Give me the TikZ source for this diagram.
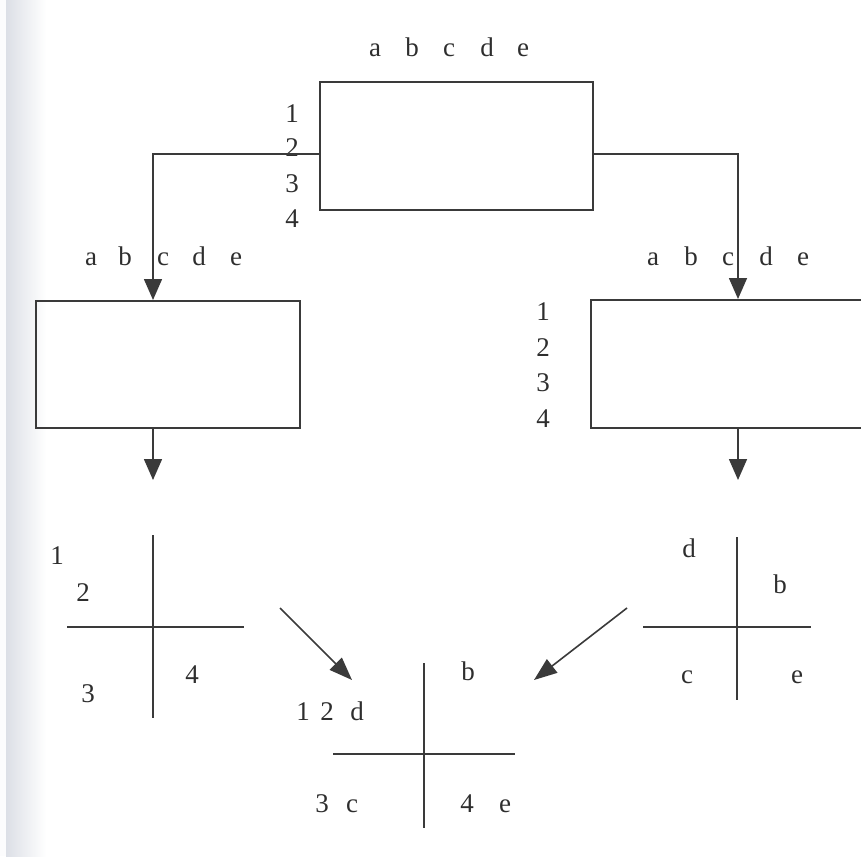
\documentclass[tikz,border=0pt]{standalone}
\usepackage{fontspec}
\setmainfont{Liberation Serif}
\usetikzlibrary{arrows.meta}
\definecolor{ink}{HTML}{3A3A3A}
\definecolor{strip}{HTML}{DCDFE6}
\tikzset{
  lbl/.style={anchor=base,inner sep=0pt,font=\fontsize{27}{29}\selectfont,text=ink!80!black},
  boxline/.style={draw=ink,line width=2pt},
  conn/.style={draw=ink,line width=1.6pt},
  axis/.style={draw=ink,line width=1.7pt},
  tip/.style={-{Triangle[length=21pt,width=18pt]}},
  diag/.style={draw=ink,line width=1.6pt,-{Triangle[length=23pt,width=17pt]}}
}
\begin{document}
\begin{tikzpicture}[x=1pt,y=-1pt]
\useasboundingbox (0,0) rectangle (861,856);
\clip (0,0) rectangle (861,856);
% scan strip at the left edge
\shade[left color=strip,right color=white] (6,0) rectangle (46,856);
\fill[white!92!strip] (0,0) rectangle (6,856);

% top box
\coordinate (tl) at (319,81);
\node[boxline,rectangle,inner sep=0pt,minimum width=273pt,minimum height=128pt,anchor=north west] (top) at (tl) {};
\foreach \t/\x in {a/375,b/412,c/449,d/487,e/523} \node[lbl] (t\t) at (\x,57) {\t};
\foreach \t/\y in {1/122,2/156,3/192,4/227} \node[lbl] (tn\t) at (292,\y) {\t};

% left box
\node[boxline,rectangle,inner sep=0pt,minimum width=264pt,minimum height=127pt,anchor=north west] (left) at (35,300) {};
\foreach \t/\x in {a/91,b/125,c/163,d/199,e/236} \node[lbl] (l\t) at (\x,265) {\t};

% right box (runs off the right edge)
\node[boxline,rectangle,inner sep=0pt,minimum width=290pt,minimum height=128pt,anchor=north west] (right) at (590,299) {};
\foreach \t/\x in {a/653,b/691,c/728,d/766,e/803} \node[lbl] (r\t) at (\x,265) {\t};
\foreach \t/\y in {1/320,2/356,3/391,4/427} \node[lbl] (rn\t) at (543,\y) {\t};

% connectors from top box
\coordinate (lin) at (153,300);
\coordinate (rin) at (738,299);
\draw[conn,tip] (top.west |- 0,154) -| (lin);
\draw[conn,tip] (top.east |- 0,154) -| (rin);

% arrows below the boxes
\coordinate (lout) at (153,427);
\coordinate (lend) at (153,480);
\coordinate (rout) at (738,427);
\coordinate (rend) at (738,480);
\draw[conn,tip] (lout) -- (lend);
\draw[conn,tip] (rout) -- (rend);

% left cross
\coordinate (lct) at (153,535);
\coordinate (lcb) at (153,718);
\coordinate (lcl) at (67,627);
\coordinate (lcr) at (244,627);
\draw[axis] (lct) -- (lcb);
\draw[axis] (lcl) -- (lcr);
\node[lbl] (lq1) at (57,564) {1};
\node[lbl] (lq2) at (83,601) {2};
\node[lbl] (lq3) at (88,702) {3};
\node[lbl] (lq4) at (192,683) {4};

% right cross
\coordinate (rct) at (737,537);
\coordinate (rcb) at (737,700);
\coordinate (rcl) at (643,627);
\coordinate (rcr) at (811,627);
\draw[axis] (rct) -- (rcb);
\draw[axis] (rcl) -- (rcr);
\node[lbl] (rqd) at (689,557) {d};
\node[lbl] (rqb) at (780,593) {b};
\node[lbl] (rqc) at (687,683) {c};
\node[lbl] (rqe) at (797,683) {e};

% bottom cross
\coordinate (bct) at (424,663);
\coordinate (bcb) at (424,828);
\coordinate (bcl) at (333,754);
\coordinate (bcr) at (515,754);
\draw[axis] (bct) -- (bcb);
\draw[axis] (bcl) -- (bcr);
\node[lbl] (bqb) at (468,680) {b};
\node[lbl] (bq1) at (303,720) {1};
\node[lbl] (bq2) at (327,720) {2};
\node[lbl] (bqd) at (357,720) {d};
\node[lbl] (bq3) at (322,812) {3};
\node[lbl] (bqc) at (352,812) {c};
\node[lbl] (bq4) at (467,812) {4};
\node[lbl] (bqe) at (505,812) {e};

% diagonal arrows into the bottom cross
\coordinate (dls) at (280,608);
\coordinate (dle) at (352,680);
\coordinate (drs) at (627,608);
\coordinate (dre) at (534,680);
\draw[diag] (dls) -- (dle);
\draw[diag] (drs) -- (dre);
\end{tikzpicture}
\end{document}
